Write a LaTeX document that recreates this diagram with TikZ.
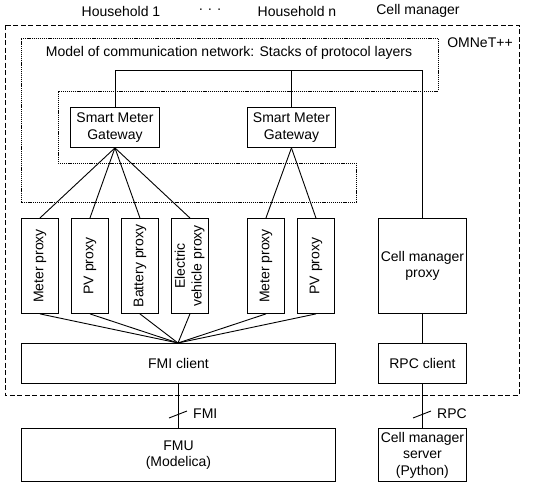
\documentclass[tikz,border=0pt]{standalone}
\usepackage{fontspec}
\setmainfont{Liberation Sans}
\usetikzlibrary{calc}
\begin{document}
\begin{tikzpicture}[x=1pt,y=-1pt,
  every node/.style={font=\fontsize{14}{16.5}\selectfont, inner sep=0pt},
  box/.style={draw, line width=0.9pt, align=center},
  proxybox/.style={box, minimum width=37pt, minimum height=95pt, anchor=north west},
  conn/.style={line width=0.9pt},
  outerdash/.style={line width=0.8pt, dash pattern=on 5pt off 2.5pt},
  innerdot/.style={line width=0.9pt, dash pattern=on 1.2pt off 0.9pt},
  tick/.style={line width=0.9pt}]
\useasboundingbox (0,0) rectangle (550,485);

% headings
\node (h1) at (121,11) {Household 1};
\node (hd) at (210,11) {·\hspace{4.5pt}·\hspace{4.5pt}·};
\node (hn) at (297,11) {Household n};
\node (hc) at (418,11) {Cell manager};

% outer OMNeT++ frame
\draw[outerdash] (5,25) rectangle (519,395);
\node (omnet) at (480,43) {OMNeT++};

% communication network region
\draw[innerdot] (21,38) -- (438,38) -- (438,91) -- (58,91) -- (58,163) -- (356,163) -- (356,202) -- (21,202) -- cycle;
\node (model) at (229,53) {Model of communication network: Stacks of protocol layers};

% smart meter gateways
\node[box, minimum width=89pt, minimum height=40pt, anchor=north west] (smg1) at (70,107) {Smart Meter\\Gateway};
\node[box, minimum width=88pt, minimum height=40pt, anchor=north west] (smg2) at (247,107) {Smart Meter\\Gateway};

% proxies
\node[proxybox] (mp1) at (21,218) {\rotatebox{90}{Meter proxy}};
\node[proxybox] (pv1) at (71,218) {\rotatebox{90}{PV proxy}};
\node[proxybox] (bp1) at (121,218) {\rotatebox{90}{Battery proxy}};
\node[proxybox] (ev1) at (171,218) {\rotatebox{90}{\begin{tabular}{@{}c@{}}Electric\\[0.5pt]vehicle proxy\end{tabular}}};
\node[proxybox] (mp2) at (247,218) {\rotatebox{90}{Meter proxy}};
\node[proxybox] (pv2) at (297,218) {\rotatebox{90}{PV proxy}};

\node[box, minimum width=88pt, minimum height=95pt, anchor=north west] (cmp) at (378,218) {Cell manager\\proxy};

% clients
\node[box, minimum width=314pt, minimum height=40pt, anchor=north west] (fmic) at (21,343) {FMI client};
\node[box, minimum width=88pt, minimum height=40pt, anchor=north west] (rpcc) at (378,343) {RPC client};

% external
\node[box, minimum width=314pt, minimum height=53pt, anchor=north west] (fmu) at (21,428) {FMU\\(Modelica)};
\node[box, minimum width=88pt, minimum height=53pt, anchor=north west] (cms) at (378,428) {Cell manager\\server\\(Python)};

% bus
\coordinate (bus) at (0,70);
\draw[conn] (smg1.north) -- (smg1.north |- bus) -| (cmp.north);
\draw[conn] (smg2.north) -- (smg2.north |- bus);

% gateway to proxies
\foreach \p in {mp1,pv1,bp1,ev1} \draw[conn] (smg1.south) -- (\p.north);
\foreach \p in {mp2,pv2} \draw[conn] (smg2.south) -- (\p.north);

% proxies to FMI client
\coordinate (fmitop) at (178,343);
\foreach \p in {mp1,pv1,bp1,ev1,mp2,pv2} \draw[conn] (\p.south) -- (fmitop);

% cell manager proxy to rpc client
\draw[conn] (cmp.south) -- (rpcc.north);

% FMI link
\coordinate (fmibot) at (178,383);
\draw[conn] (fmibot) -- (fmibot |- fmu.north);
\coordinate (fmitick) at (178,414.5);
\draw[tick] ($(fmitick)+(-9,3.5)$) -- ($(fmitick)+(9,-3.5)$);
\node[anchor=west] (fmilbl) at (193,414) {FMI};

% RPC link
\draw[conn] (rpcc.south) -- (cms.north);
\coordinate (rpctick) at (422,414.5);
\draw[tick] ($(rpctick)+(-9,3.5)$) -- ($(rpctick)+(9,-3.5)$);
\node[anchor=west] (rpclbl) at (437,414) {RPC};
\end{tikzpicture}
\end{document}
